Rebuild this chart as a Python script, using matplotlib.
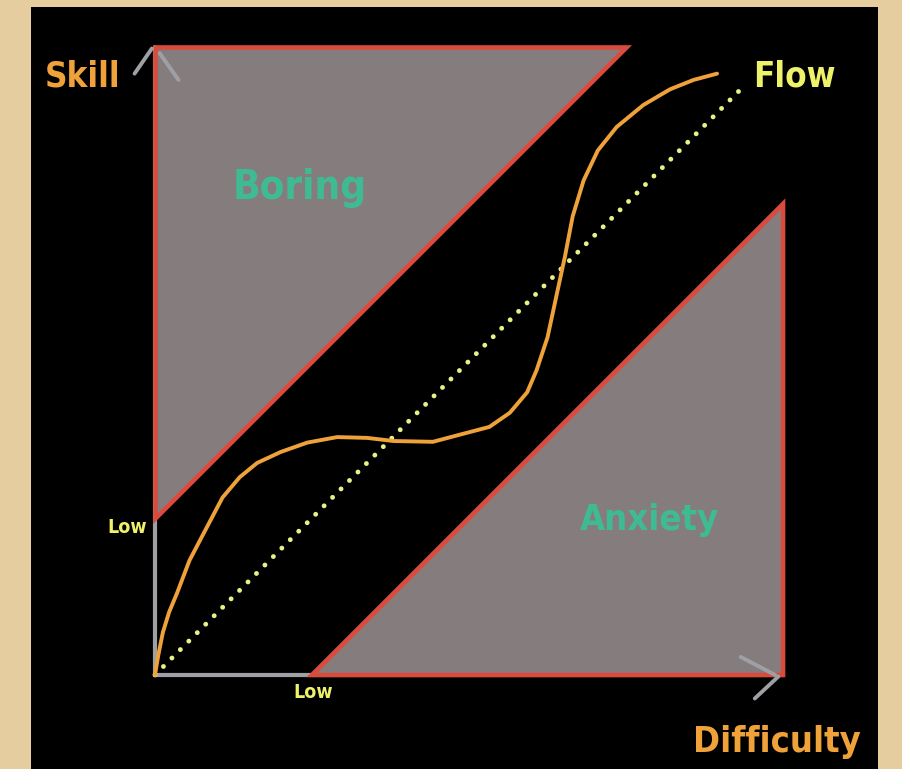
import matplotlib
matplotlib.use("Agg")
import matplotlib.pyplot as plt
from matplotlib.patches import Polygon, Rectangle

plt.rcParams['font.family'] = ['DejaVu Sans']

# diagram units: 1 = "Low" level on each axis
axis_max = 4.0
low_level = 1.0
band = 3.0
flow_end = 3.75

# skill vs difficulty curve
curve_x = [0, 0.02, 0.05, 0.09, 0.14, 0.22, 0.33, 0.43, 0.54, 0.65, 0.80, 0.97, 1.16,
           1.35, 1.52, 1.77, 1.94, 2.13, 2.26, 2.37, 2.43, 2.50, 2.56, 2.61, 2.66,
           2.73, 2.82, 2.94, 3.11, 3.28, 3.43, 3.58]
curve_y = [0, 0.12, 0.27, 0.40, 0.52, 0.73, 0.94, 1.13, 1.26, 1.35, 1.42, 1.48, 1.515,
           1.51, 1.49, 1.485, 1.53, 1.58, 1.67, 1.80, 1.94, 2.15, 2.43, 2.66, 2.92,
           3.15, 3.34, 3.49, 3.63, 3.73, 3.79, 3.83]

RED = '#d94b3d'
FILL = '#857c7e'
AXIS = '#9fa0a6'
ORANGE = '#f0a23a'
TEAL = '#3fbb94'
YELLOW = '#eef26a'

fig = plt.figure(figsize=(9.03, 7.69), dpi=100)
fig.patch.set_facecolor('#e5cda0')
ax = fig.add_axes([0, 0, 1, 1])
ax.set_xlim(-0.987, 4.764)
ax.set_ylim(-0.599, 4.299)
ax.axis('off')

ax.add_patch(Rectangle((-0.79, -1.0), 5.395, 5.255, facecolor='black', edgecolor='none', zorder=0))

# axes
ax.plot([0, 0], [0, axis_max], color=AXIS, lw=3, solid_capstyle='round', zorder=1)
ax.plot([0, axis_max], [0, 0], color=AXIS, lw=3, solid_capstyle='round', zorder=1)

# zones
boring = Polygon([(0, low_level), (0, axis_max), (band, axis_max)], closed=True,
                 facecolor=FILL, edgecolor=RED, lw=3.3, joinstyle='miter', zorder=2)
anxiety = Polygon([(low_level, 0), (axis_max, band), (axis_max, 0)], closed=True,
                  facecolor=FILL, edgecolor=RED, lw=3.3, joinstyle='miter', zorder=2)
ax.add_patch(boring)
ax.add_patch(anxiety)

# arrow heads
ax.plot([-0.13, -0.02], [3.83, 3.99], color=AXIS, lw=2.8, solid_capstyle='round', zorder=3)
ax.plot([0.15, 0.03], [3.79, 3.96], color=AXIS, lw=2.8, solid_capstyle='round', zorder=3)
ax.plot([3.73, 3.95], [0.115, 0.0], color=AXIS, lw=2.8, solid_capstyle='round', zorder=3)
ax.plot([3.82, 3.97], [-0.15, -0.01], color=AXIS, lw=2.8, solid_capstyle='round', zorder=3)

# flow channel
ax.plot([0, flow_end], [0, flow_end], color='#e8f08a', lw=3.5, ls=(0, (0.01, 2.45)),
        dash_capstyle='round', zorder=4)
ax.plot(curve_x, curve_y, color=ORANGE, lw=2.8, solid_capstyle='round',
        solid_joinstyle='round', zorder=5)

# labels
lab = dict(fontweight='bold', fontstretch='condensed', ha='center', va='center', zorder=6)
ax.text(-0.46, 3.81, 'Skill', color=ORANGE, fontsize=25, **lab)
ax.text(4.07, 3.81, 'Flow', color=YELLOW, fontsize=25, **lab)
ax.text(3.96, -0.43, 'Difficulty', color=ORANGE, fontsize=26, **lab)
ax.text(0.92, 3.10, 'Boring', color=TEAL, fontsize=29, **lab)
ax.text(3.15, 0.99, 'Anxiety', color=TEAL, fontsize=26, **lab)
ax.text(-0.18, 0.94, 'Low', color=YELLOW, fontsize=14, **lab)
ax.text(1.01, -0.11, 'Low', color=YELLOW, fontsize=14, **lab)

fig.savefig('out.png', dpi=100, facecolor=fig.get_facecolor())
